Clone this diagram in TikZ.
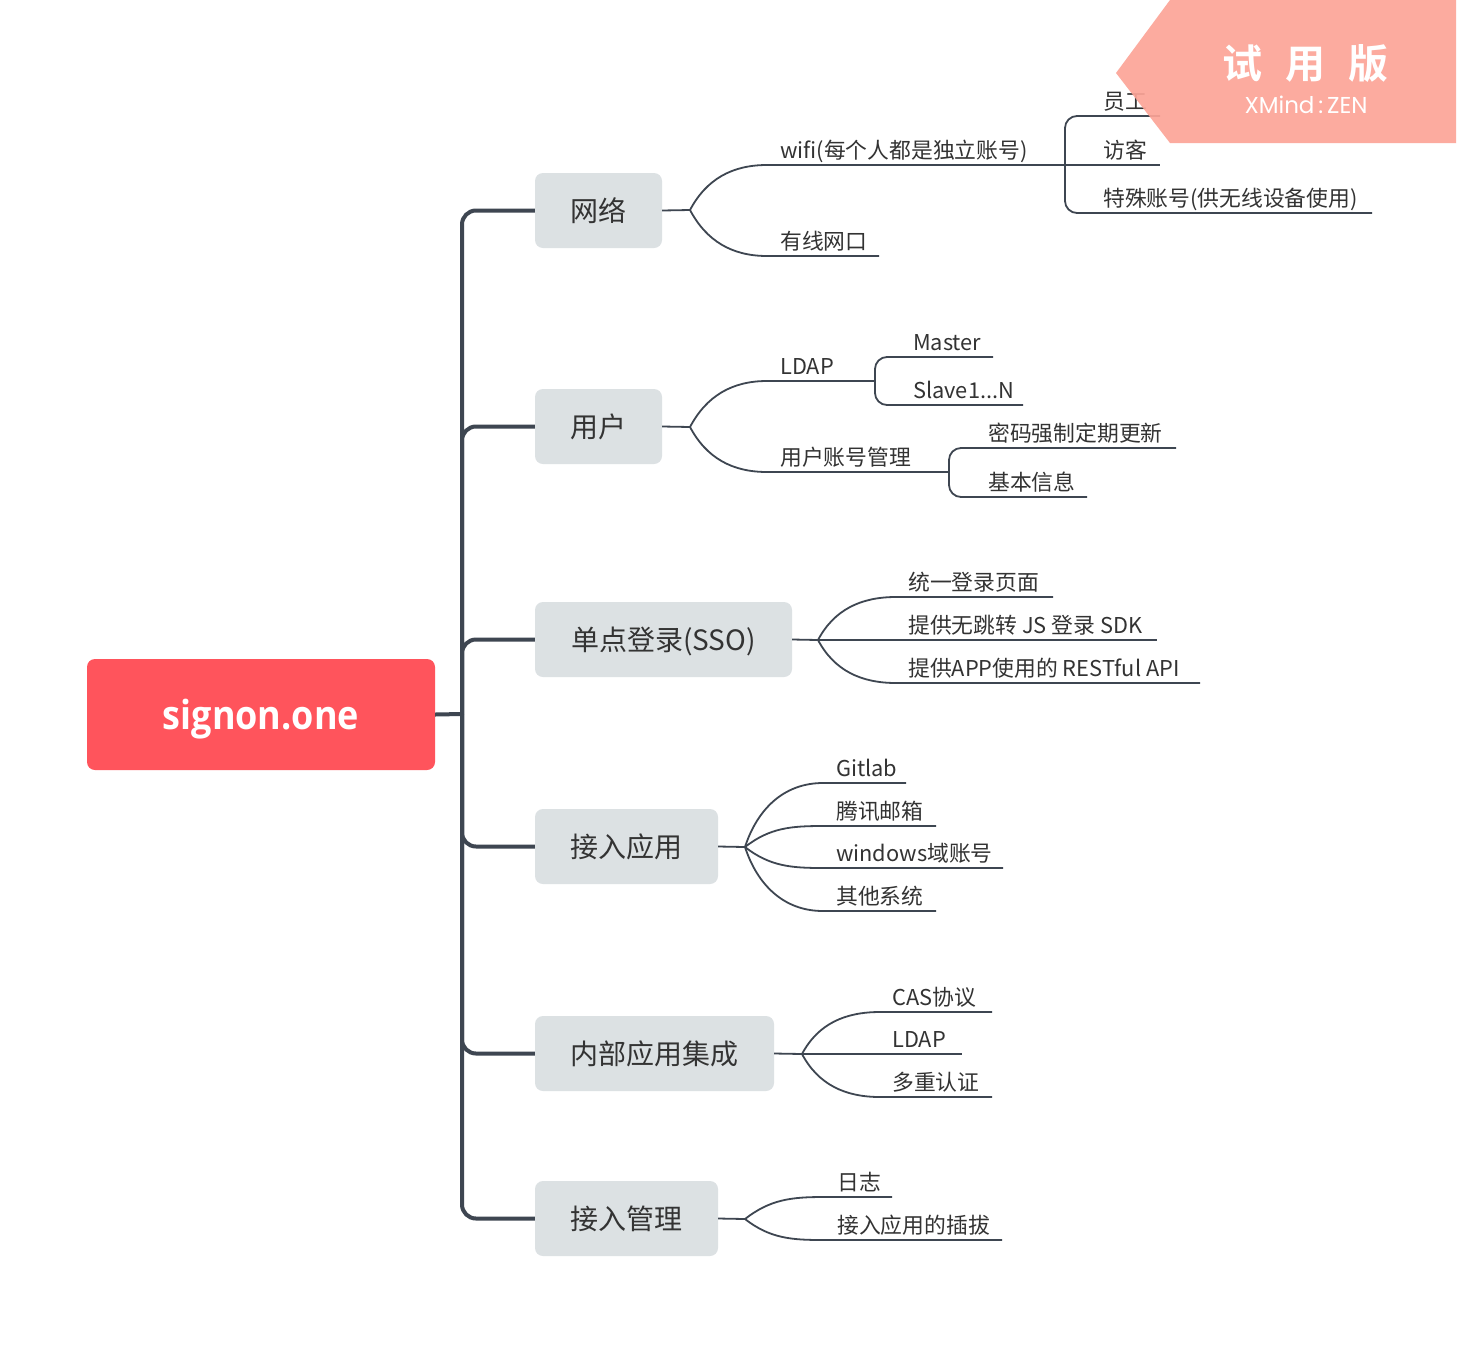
\documentclass[tikz,border=0pt]{standalone}
\usepackage{fontspec}
\setmainfont{Noto Sans CJK SC}[BoldFont={Noto Sans CJK SC Bold}]
\newfontfamily\rootfont{Open Sans}[FakeStretch=0.9]
\newfontfamily\wmfont{Poppins}
\definecolor{lc}{HTML}{3E4651}
\definecolor{txt}{HTML}{333333}
\definecolor{boxc}{HTML}{DCE1E3}
\definecolor{rootc}{HTML}{FF545C}
\definecolor{wmc}{HTML}{FCA497}
\tikzset{
  trunk/.style={draw=lc, line width=4pt, rounded corners=14pt},
  sub/.style={draw=lc, line width=1.8pt},
  brk/.style={draw=lc, line width=1.8pt, rounded corners=12pt},
  topic/.style={fill=boxc, rounded corners=8pt, inner sep=0pt, minimum height=75pt,
    text=txt, font=\fontsize{28}{28}\selectfont, text height=24pt, text depth=3pt},
  lbl/.style={anchor=base west, inner sep=0pt, text=txt, font=\fontsize{21.8}{22}\selectfont},
}
\begin{document}
\begin{tikzpicture}[x=1pt,y=-1pt]
\useasboundingbox (0,0) rectangle (1458,1344);
\fill[white] (0,0) rectangle (1458,1344);

% root
\node[fill=rootc, rounded corners=8pt, minimum width=348pt, minimum height=111pt, inner sep=0pt,
  text=white, font=\rootfont\bfseries\fontsize{40}{40}\selectfont, text height=30pt, text depth=1pt]
  (root) at (261,714.5) {signon.one};

% topics
\node[topic, minimum width=127pt] (t1) at (598.5,210.5) {网络};
\node[topic, minimum width=127pt] (t2) at (598.5,426.5) {用户};
\node[topic, minimum width=257pt] (t3) at (663.5,639.5) {单点登录(SSO)};
\node[topic, minimum width=183pt] (t4) at (626.5,846.5) {接入应用};
\node[topic, minimum width=239pt] (t5) at (654.5,1053.5) {内部应用集成};
\node[topic, minimum width=183pt] (t6) at (626.5,1218.5) {接入管理};

% trunk
\coordinate (tk) at (462,714);
\draw[trunk] (root.east) -- (tk);
\foreach \t in {t1,t2,t3,t4,t5,t6} { \draw[trunk] (tk) |- (\t.west); }

% forks
\coordinate (f1) at (690,210);
\coordinate (f2) at (690,427);
\coordinate (f3) at (818,640);
\coordinate (f4) at (745,847);
\coordinate (f5) at (802,1054);
\coordinate (f6) at (745,1219);
\draw[sub] (t1.east) -- (f1);
\draw[sub] (t2.east) -- (f2);
\draw[sub] (t3.east) -- (f3);
\draw[sub] (t4.east) -- (f4);
\draw[sub] (t5.east) -- (f5);
\draw[sub] (t6.east) -- (f6);

% ---- 网络
\coordinate (a1s) at (767,165); \coordinate (g1) at (1065,165);
\coordinate (a2s) at (767,256); \coordinate (a2e) at (879,256);
\node[lbl] (l11) at (780,158) {wifi(每个人都是独立账号)};
\node[lbl] (l12) at (780,249) {有线网口};
\draw[sub] (f1) to[out=62,in=180] (a1s) -- (g1);
\draw[sub] (f1) to[out=-62,in=180] (a2s) -- (a2e);
\coordinate (b1e) at (1160,116);
\coordinate (b2e) at (1160,165);
\coordinate (b3e) at (1372,213);
\node[lbl] (l111) at (1103,109) {员工};
\node[lbl] (l112) at (1103,158) {访客};
\node[lbl] (l113) at (1103,206) {特殊账号(供无线设备使用)};
\draw[brk] (g1) |- (b1e);
\draw[sub] (g1) -- (b2e);
\draw[brk] (g1) |- (b3e);

% ---- 用户
\coordinate (u1s) at (767,381); \coordinate (g21) at (875,381);
\coordinate (u2s) at (767,472); \coordinate (g22) at (949,472);
\node[lbl] (l21) at (780,374) {LDAP};
\node[lbl] (l22) at (780,465) {用户账号管理};
\draw[sub] (f2) to[out=62,in=180] (u1s) -- (g21);
\draw[sub] (f2) to[out=-62,in=180] (u2s) -- (g22);
\coordinate (m1e) at (993,357);
\coordinate (m2e) at (1023,405);
\node[lbl] (l211) at (913,350) {Master};
\node[lbl] (l212) at (913,398) {Slave1...N};
\draw[brk] (g21) |- (m1e);
\draw[brk] (g21) |- (m2e);
\coordinate (p1e) at (1176,448);
\coordinate (p2e) at (1087,497);
\node[lbl] (l221) at (988,441) {密码强制定期更新};
\node[lbl] (l222) at (988,490) {基本信息};
\draw[brk] (g22) |- (p1e);
\draw[brk] (g22) |- (p2e);

% ---- SSO
\coordinate (s1s) at (896,597); \coordinate (s1e) at (1053,597);
\coordinate (s2e) at (1157,640);
\coordinate (s3s) at (896,683); \coordinate (s3e) at (1200,683);
\node[lbl] (l31) at (908,590) {统一登录页面};
\node[lbl] (l32) at (908,633) {提供无跳转 JS 登录 SDK};
\node[lbl] (l33) at (908,676) {提供APP使用的 RESTful API};
\draw[sub] (f3) to[out=62,in=180] (s1s) -- (s1e);
\draw[sub] (f3) -- (s2e);
\draw[sub] (f3) to[out=-62,in=180] (s3s) -- (s3e);

% ---- 接入应用
\coordinate (j1s) at (823,783); \coordinate (j1e) at (906,783);
\coordinate (j2s) at (823,826); \coordinate (j2e) at (936,826);
\coordinate (j3s) at (823,868); \coordinate (j3e) at (1003,868);
\coordinate (j4s) at (823,911); \coordinate (j4e) at (936,911);
\node[lbl] (l41) at (836,776) {Gitlab};
\node[lbl] (l42) at (836,819) {腾讯邮箱};
\node[lbl] (l43) at (836,861) {windows域账号};
\node[lbl] (l44) at (836,904) {其他系统};
\draw[sub] (f4) to[out=72,in=180] (j1s) -- (j1e);
\draw[sub] (f4) to[out=38,in=180] (j2s) -- (j2e);
\draw[sub] (f4) to[out=-38,in=180] (j3s) -- (j3e);
\draw[sub] (f4) to[out=-72,in=180] (j4s) -- (j4e);

% ---- 内部应用集成
\coordinate (n1s) at (880,1012); \coordinate (n1e) at (992,1012);
\coordinate (n2e) at (962,1054);
\coordinate (n3s) at (880,1097); \coordinate (n3e) at (992,1097);
\node[lbl] (l51) at (892,1005) {CAS协议};
\node[lbl] (l52) at (892,1047) {LDAP};
\node[lbl] (l53) at (892,1090) {多重认证};
\draw[sub] (f5) to[out=62,in=180] (n1s) -- (n1e);
\draw[sub] (f5) -- (n2e);
\draw[sub] (f5) to[out=-62,in=180] (n3s) -- (n3e);

% ---- 接入管理
\coordinate (k1s) at (823,1197); \coordinate (k1e) at (892,1197);
\coordinate (k2s) at (823,1240); \coordinate (k2e) at (1002,1240);
\node[lbl] (l61) at (837,1190) {日志};
\node[lbl] (l62) at (837,1233) {接入应用的插拔};
\draw[sub] (f6) to[out=38,in=180] (k1s) -- (k1e);
\draw[sub] (f6) to[out=-38,in=180] (k2s) -- (k2e);

% ---- watermark
\fill[wmc, fill opacity=0.92] (1116,73) -- (1170,0) -- (1456,0) -- (1456,143) -- (1170,143) -- cycle;
\node[inner sep=0pt, text=white, font=\bfseries\fontsize{40}{40}\selectfont] (wm1) at (1305,63) {试\hspace{23pt}用\hspace{23pt}版};
\node[inner sep=0pt, text=white, font=\wmfont\fontsize{23}{23}\selectfont] (wm2) at (1306,105) {XMind\,:\,ZEN};
\end{tikzpicture}
\end{document}
